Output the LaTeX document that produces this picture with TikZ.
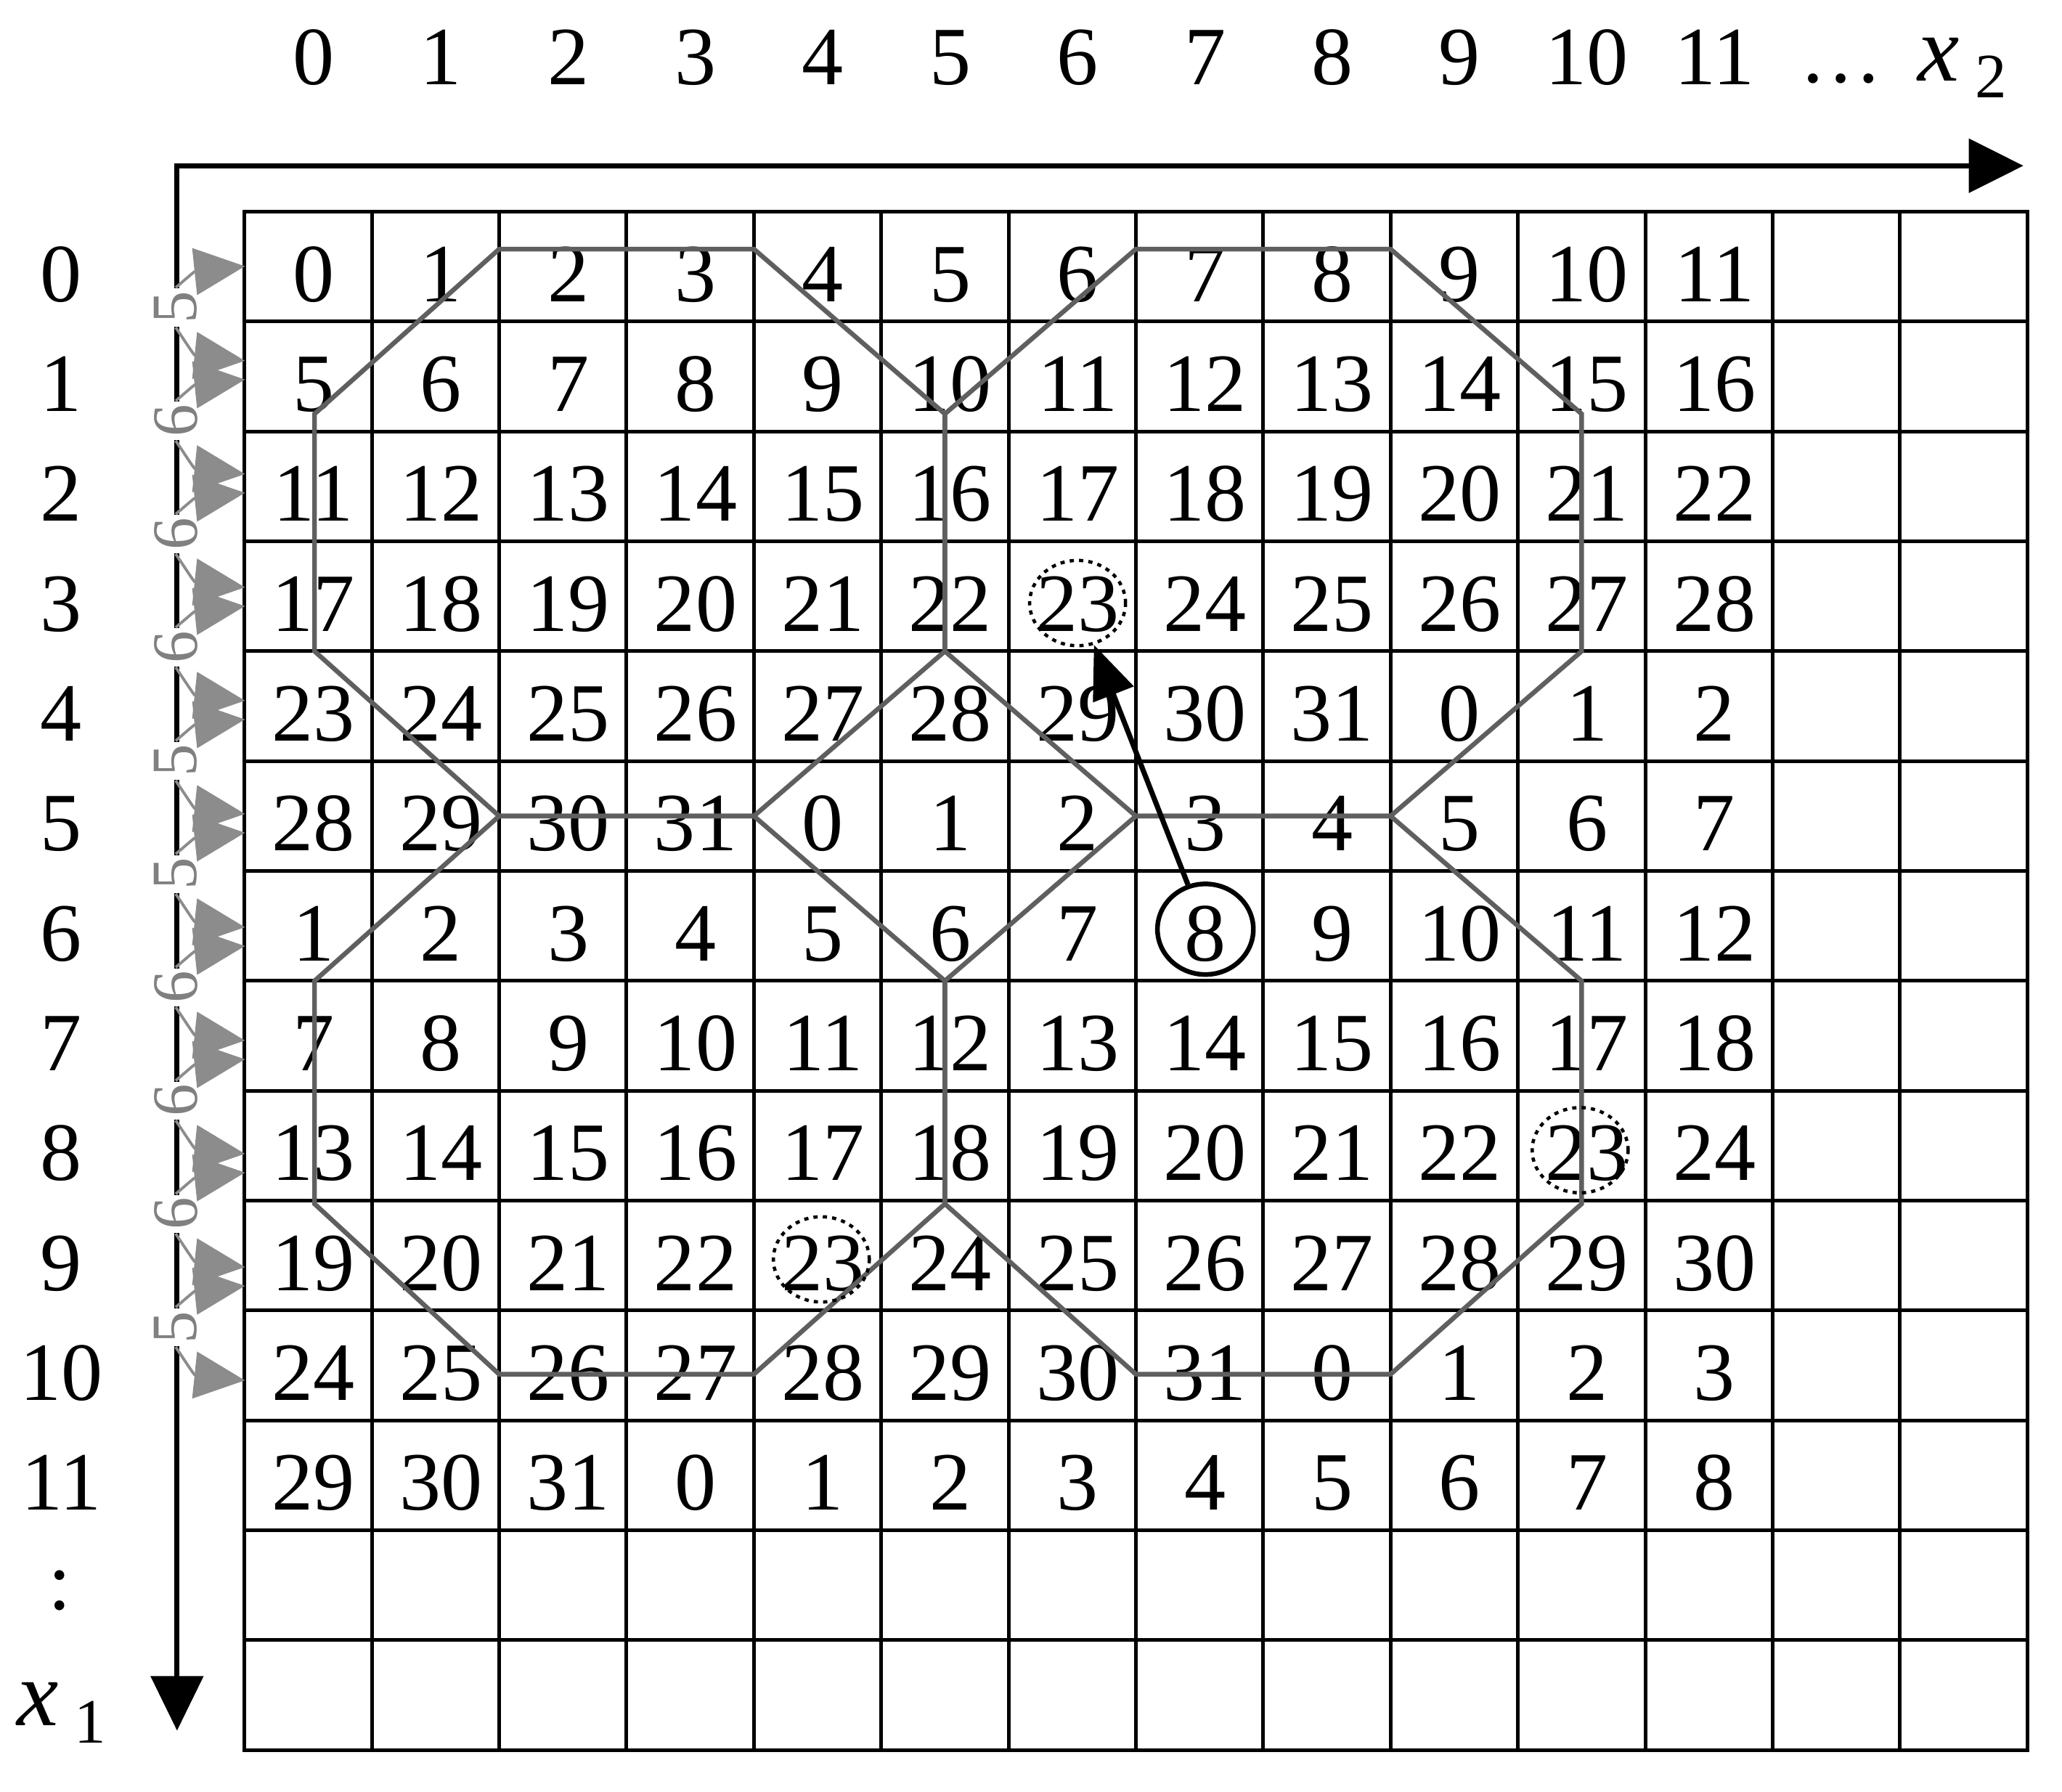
\documentclass[tikz,border=0pt]{standalone}
\usepackage{fontspec}
\setmainfont{Liberation Serif}
\usetikzlibrary{arrows.meta,shapes.geometric}
\definecolor{octc}{RGB}{95,95,95}
\definecolor{arrc}{RGB}{140,140,140}
\definecolor{labc}{RGB}{128,128,128}
\begin{document}
\begin{tikzpicture}[x=0.01cm,y=-0.01cm,
  cellnum/.style={anchor=base,inner sep=0pt,font=\fontsize{17.7pt}{20pt}\selectfont},
  gridline/.style={line width=0.78pt,black,line cap=rect},
  octline/.style={line width=1.0pt,octc},
  difflab/.style={rotate=90,fill=white,inner sep=0.6pt,text=labc,font=\fontsize{13.8pt}{15pt}\selectfont},
  diffarrow/.style={arrc,line width=0.6pt,-{Triangle[length=0.38cm,width=0.35cm]}},
  axisline/.style={line width=1.1pt,black,{Triangle[length=0.41cm,width=0.39cm]}-{Triangle[length=0.41cm,width=0.40cm]}},
  dotcirc/.style={draw=black,ellipse,minimum width=0.72cm,minimum height=0.64cm,inner sep=0pt,line width=0.7pt,dash pattern=on 0.9pt off 1.1pt},
  solidcirc/.style={draw=black,ellipse,minimum width=0.72cm,minimum height=0.68cm,inner sep=0pt,line width=1.0pt},
  pointer/.style={line width=1.1pt,black,-{Triangle[length=0.40cm,width=0.32cm]}}
]
\useasboundingbox (0,0) rectangle (1549,1346);

% grid
\foreach \k in {0,...,14}{
  \draw[gridline] ({183.7+95.66*\k},159) -- ({183.7+95.66*\k},1314.5);
  \draw[gridline] (183.7,{159+82.54*\k}) -- (1523,{159+82.54*\k});
}

% axes
\coordinate (O) at (133,124.5);
\coordinate (Xend) at (1520,124.5);
\coordinate (Yend) at (133,1300);
\draw[axisline] (Yend) -- (O) -- (Xend);

% column labels
\foreach \c in {0,...,11}{
  \node[cellnum] (col\c) at ({183.7+95.66*(\c+0.5)+4},63.6) {\c};
}
\node[cellnum] (hdots) at (1383,62) {…};
\node[anchor=base west,inner sep=0pt] (xtwo) at (1440,61)
  {\fontsize{20pt}{22pt}\selectfont\itshape x\hspace{0.12cm}\raisebox{-0.126cm}{\fontsize{13.5pt}{15pt}\selectfont\upshape 2}};

% row labels
\foreach \r in {0,...,11}{
  \node[cellnum] (row\r) at (46,{159+82.54*\r+67.5}) {\r};
}
\node[cellnum] (vdots) at (45,1209) {:};
\node[anchor=base west,inner sep=0pt] (xone) at (12,1296)
  {\fontsize{20pt}{22pt}\selectfont\itshape x\hspace{0.12cm}\raisebox{-0.13cm}{\fontsize{13.5pt}{15pt}\selectfont\upshape 1}};

% cell numbers
\foreach \r/\off in {0/0,1/5,2/11,3/17,4/23,5/28,6/33,7/39,8/45,9/51,10/56,11/61}{
  \foreach \c in {0,...,11}{
    \pgfmathtruncatemacro{\v}{mod(\off+\c,32)}
    \node[cellnum] (n-\r-\c) at ({183.7+95.66*(\c+0.5)+4},{159+82.54*\r+67.5}) {\v};
  }
}

% octagons
\draw[octline] (375,187.1) -- (566.3,187.1) -- (709.8,310.9) -- (709.8,489.2) -- (566.3,613) -- (375,613) -- (236.3,489.2) -- (236.3,310.9) -- cycle;
\draw[octline] (853.3,187.1) -- (1044.6,187.1) -- (1188.1,310.9) -- (1188.1,489.2) -- (1044.6,613) -- (853.3,613) -- (709.8,489.2) -- (709.8,310.9) -- cycle;
\draw[octline] (375,613) -- (566.3,613) -- (709.8,736.8) -- (709.8,904.3) -- (566.3,1032.3) -- (375,1032.3) -- (236.3,904.3) -- (236.3,736.8) -- cycle;
\draw[octline] (853.3,613) -- (1044.6,613) -- (1188.1,736.8) -- (1188.1,904.3) -- (1044.6,1032.3) -- (853.3,1032.3) -- (709.8,904.3) -- (709.8,736.8) -- cycle;

% circles and pointer
\node[dotcirc] (ca) at (809.5,453) {};
\node[dotcirc] (cb) at (1187,864) {};
\node[dotcirc] (cc) at (617,946) {};
\node[solidcirc] (ce) at (905.5,698) {};
\draw[pointer] (ce) -- (ca);

% difference labels and arrows on the left
\foreach \i/\d in {0/5,1/6,2/6,3/6,4/5,5/5,6/6,7/6,8/6,9/5}{
  \pgfmathsetmacro{\L}{231+85.1*\i}
  \node[difflab] (d\i) at (132,\L) {\d};
  \coordinate (ut\i) at (184,{\L-31});
  \coordinate (uc\i) at (146,{\L-27});
  \coordinate (dt\i) at (184,{\L+40});
  \coordinate (dc\i) at (146,{\L+36});
  \draw[diffarrow] (d\i.east) .. controls (uc\i) .. (ut\i);
  \draw[diffarrow] (d\i.west) .. controls (dc\i) .. (dt\i);
}
\end{tikzpicture}
\end{document}
